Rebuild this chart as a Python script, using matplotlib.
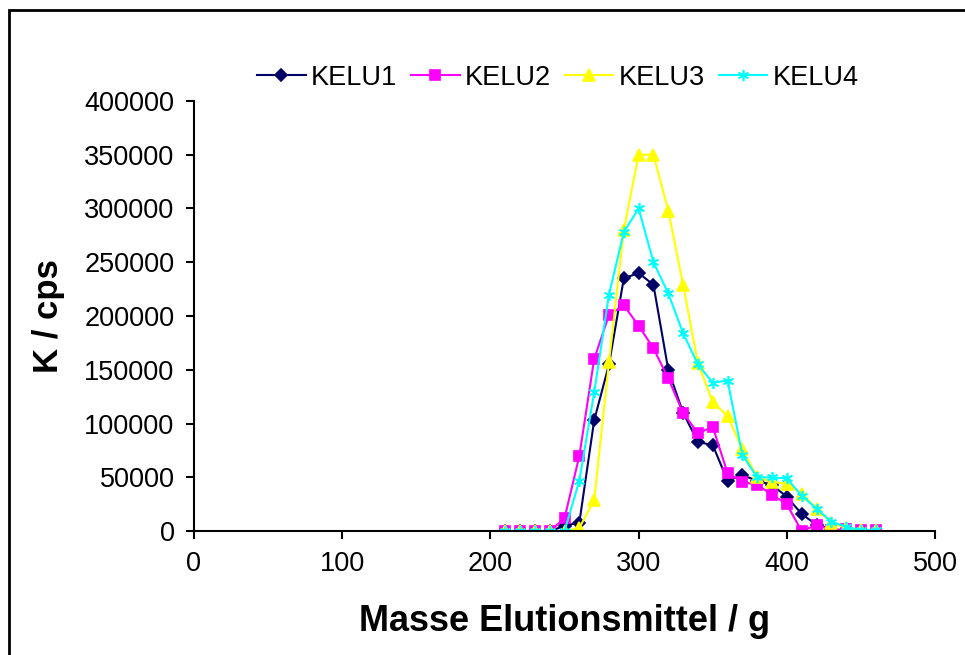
import matplotlib
matplotlib.use('Agg')
from matplotlib import pyplot as plt
from matplotlib.patches import Rectangle

plt.rcParams['font.family'] = ['Liberation Sans', 'DejaVu Sans']

# elution mass (g), one reading every 10 g
masse = [210, 220, 230, 240, 250, 260, 270, 280, 290, 300, 310, 320, 330,
         340, 350, 360, 370, 380, 390, 400, 410, 420, 430, 440, 450, 460]

kelu1 = [0, 0, 0, 0, 5000, 8000, 103000, 155000, 235000, 240000, 229000,
         150000, 110000, 83000, 80000, 47000, 52000, 47000, 43000, 32000,
         16000, 6000, 2000, 0, None, None]
kelu2 = [0, 0, 0, 0, 12000, 70000, 160000, 201000, 210000, 191000, 170000,
         142000, 110000, 91000, 97000, 54000, 46000, 43000, 34000, 25000,
         0, 6000, 1000, 2000, 1000, 1000]
kelu3 = [0, 0, 0, 0, 0, 3000, 29000, 157000, 280000, 350000, 350000,
         298000, 229000, 156000, 120000, 107000, 76000, 50000, 46000, 44000,
         35000, 21000, 8000, 3000, 1000, 1000]
kelu4 = [0, 0, 0, 0, 0, 47000, 129000, 220000, 278000, 300000, 250000,
         221000, 184000, 155000, 138000, 140000, 71000, 50000, 50000, 49000,
         33000, 21000, 9000, 4000, 1000, 1000]

series = [('KELU1', kelu1, '#000066', 'D', 6),
          ('KELU2', kelu2, '#ff00ff', 's', 7),
          ('KELU3', kelu3, '#ffff00', '^', 8),
          ('KELU4', kelu4, '#00ffff', (6, 2, 0), 8)]

fig = plt.figure(figsize=(9.65, 6.55), dpi=100)
ax = fig.add_axes([0.201, 0.189, 0.768, 0.657])

for name, vals, col, mk, ms in series:
    ax.plot(masse, vals, color=col, marker=mk, markersize=ms, linewidth=1.5,
            markeredgecolor=col, markeredgewidth=1.2, label=name)

ax.set_xlim(0, 500)
ax.set_ylim(0, 400000)
ax.set_xticks(range(0, 501, 100))
ax.set_yticks(range(0, 400001, 50000))
for s in ['top', 'right']:
    ax.spines[s].set_visible(False)
for s in ['left', 'bottom']:
    ax.spines[s].set_linewidth(1.5)
ax.tick_params(direction='out', length=6, width=1.5, labelsize=19.5, pad=8)

ax.set_xlabel('Masse Elutionsmittel / g', fontsize=26, fontweight='bold', labelpad=20)
ax.set_ylabel('K / cps', fontsize=25, fontweight='bold', labelpad=14)

fig.legend(loc='center', bbox_to_anchor=(0.578, 0.881), ncol=4, frameon=False,
           fontsize=19.5, handlelength=1.8, handletextpad=0.2, columnspacing=0.5)

fig.add_artist(Rectangle((9 / 965, -0.1), 1.2, 1 - 10 / 655 + 0.1,
                         transform=fig.transFigure, fill=False,
                         edgecolor='black', linewidth=2))

fig.savefig('out.png', dpi=100)
